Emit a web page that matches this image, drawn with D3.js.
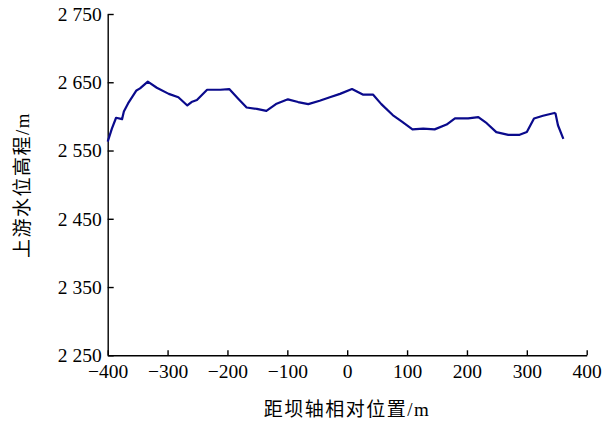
<!DOCTYPE html>
<html><head><meta charset="utf-8">
<script src="https://cdn.jsdelivr.net/npm/d3@7"></script>
<style>
body{margin:0;background:#fff;}
svg{display:block;}
text{font-family:"Liberation Serif","Times New Roman",serif;}
.cjk{font-family:"Liberation Serif","Noto Sans CJK SC",serif;}
</style></head>
<body><svg id="c" width="613" height="428"></svg>
<script>
const distance = [-400,-393,-386,-376,-373,-366,-352,-346,-333,-318,-298,-282,-267,-260,-251,-234,-212,-197,-182,-168,-151,-135,-119,-99,-82,-65,-46,-29,-12,8,26,43,57,76,92,109,127,146,166,180,202,219,233,249,269,288,300,312,327,346,348,352,361];
const elevation = [2563,2582,2598,2596,2607,2619,2638,2641,2651,2642,2633,2628,2616,2621,2624,2639,2639,2640,2626,2613,2611,2608,2618,2625,2621,2618,2623,2628,2633,2640,2632,2632,2618,2602,2592,2581,2582,2581,2588,2597,2597,2599,2590,2577,2573,2573,2577,2597,2601,2605,2604,2587,2567];
const xTicks = [-400,-300,-200,-100,0,100,200,300,400];
const yTicks = [2250,2350,2450,2550,2650,2750];
const xTitle = "距坝轴相对位置/m";
const yTitle = "上游水位高程/m";

const svg = d3.select("#c");
const x = d3.scaleLinear().domain([-400,400]).range([107.7,586.7]);
const y = d3.scaleLinear().domain([2250,2750]).range([355.3,14]);

const gx = svg.append("g").attr("transform",`translate(0,${y(2250)})`)
  .call(d3.axisBottom(x).tickValues(xTicks).tickSizeInner(-5).tickSizeOuter(0).tickPadding(9));
const gy = svg.append("g").attr("transform",`translate(${x(-400)},0)`)
  .call(d3.axisLeft(y).tickValues(yTicks).tickSizeInner(-6).tickSizeOuter(0).tickPadding(6)
    .tickFormat(d=>String(d).replace(/^(\d)(\d{3})$/,"$1 $2")));
[gx,gy].forEach(g=>{
  g.selectAll("path,line").attr("stroke","#000").attr("stroke-width",1.4);
  g.selectAll("text").attr("font-size",19.5).attr("fill","#000")
   .attr("font-family","'Liberation Serif','Times New Roman',serif");
});

const line = d3.line().x((d,i)=>x(distance[i])).y((d,i)=>y(elevation[i]));
svg.append("path").datum(elevation).attr("d",line)
  .attr("fill","none").attr("stroke","#0a0a8c").attr("stroke-width",2.2).attr("stroke-linejoin","round");

svg.append("text").attr("class","cjk").attr("x",347).attr("y",416)
  .attr("text-anchor","middle").attr("font-size",19).attr("letter-spacing",1.5).text(xTitle);
svg.append("text").attr("class","cjk").attr("transform","translate(29,185) rotate(-90)")
  .attr("text-anchor","middle").attr("font-size",19).attr("letter-spacing",1.5).text(yTitle);
</script></body></html>
